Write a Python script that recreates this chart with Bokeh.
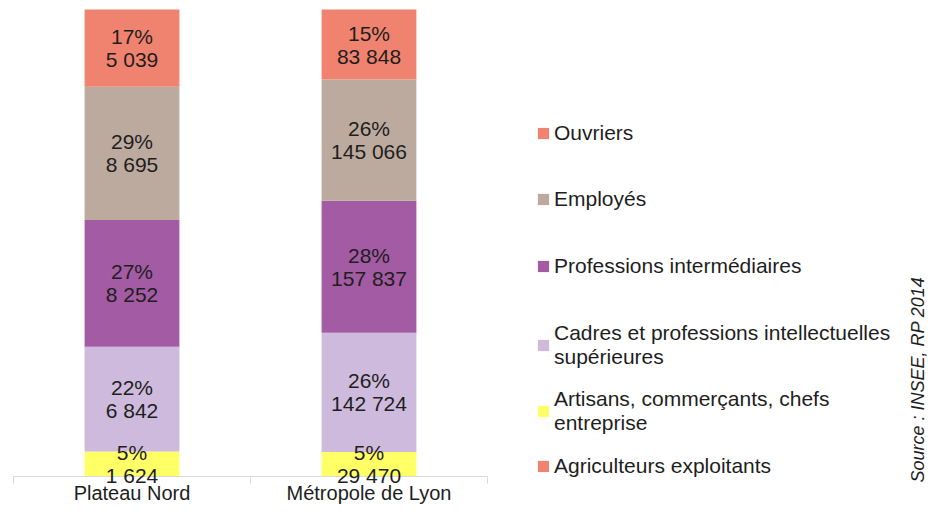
from bokeh.plotting import figure
from bokeh.models import (ColumnDataSource, LabelSet, Label, Legend, LegendItem,
                          Range1d)
from bokeh.core.properties import value
from bokeh.embed import file_html
from bokeh.resources import INLINE

# ---------------- data ----------------
categories = ["Plateau Nord", "Métropole de Lyon"]
series_names = [
    "Agriculteurs exploitants",
    "Artisans, commerçants, chefs\nentreprise",
    "Cadres et professions intellectuelles\nsupérieures",
    "Professions intermédiaires",
    "Employés",
    "Ouvriers",
]
agriculteurs = [0, 0]
artisans = [1624, 29470]
cadres = [6842, 142724]
prof_inter = [8252, 157837]
employes = [8695, 145066]
ouvriers = [5039, 83848]
series_values = [agriculteurs, artisans, cadres, prof_inter, employes, ouvriers]
colors = ["#F0836F", "#FFFF66", "#CDBADC", "#A35BA3", "#BCAA9F", "#F0836F"]
source_text = "Source : INSEE, RP 2014"

FONT = "Liberation Sans"
TXT = "#1E1E1E"

# ---------------- layout (pixels) ----------------
W, H = 930, 504
PX_X0, PX_CAT = 13, 237          # left of plot area, width of one category
PX_TOP, PX_BOT = 9, 476          # top / baseline of the bars
n = len(categories)
ppy = PX_BOT - PX_TOP            # pixels per unit share

# ---------------- derived ----------------
totals = [sum(v[i] for v in series_values) for i in range(n)]
keys = [f"s{k}" for k in range(len(series_values))]
data = {"x": [i + 0.5 for i in range(n)]}
for k, vals in zip(keys, series_values):
    data[k] = [vals[i] / totals[i] for i in range(n)]
src = ColumnDataSource(data)

lx, ly, lpct, lcnt = [], [], [], []
for i in range(n):
    cum = 0.0
    for vals in series_values:
        share = vals[i] / totals[i]
        if vals[i] > 0:
            lx.append(i + 0.5)
            ly.append(cum + share / 2)
            lpct.append(f"{round(share * 100)}%")
            lcnt.append(f"{vals[i]:,}".replace(",", " "))
        cum += share
lab_src = ColumnDataSource(dict(x=lx, y=ly, pct=lpct, cnt=lcnt))

# ---------------- figure ----------------
x_range = Range1d(-PX_X0 / PX_CAT, (W - PX_X0) / PX_CAT)
y_range = Range1d((PX_BOT - H) / ppy, PX_BOT / ppy)
p = figure(width=W, height=H, output_backend="svg", toolbar_location=None,
           x_range=x_range, y_range=y_range,
           x_axis_location=None, y_axis_location=None,
           min_border=0)
p.outline_line_color = None
p.xgrid.visible = False
p.ygrid.visible = False
p.background_fill_color = "white"
p.border_fill_color = "white"

renderers = p.vbar_stack(keys, x="x", width=0.4, source=src,
                         fill_color=colors, line_color=None)

# category axis: baseline + boundary ticks
bounds = list(range(n + 1))
p.segment(x0=[bounds[0]], y0=[0], x1=[bounds[-1]], y1=[0],
          line_color="#D9D9D9", line_width=1)
p.segment(x0=bounds, y0=[0] * len(bounds), x1=bounds,
          y1=[-7 / ppy] * len(bounds), line_color="#D9D9D9", line_width=1)

# segment labels
common = dict(source=lab_src, x="x", y="y", text_align="center",
              text_baseline="middle", text_font=value(FONT),
              text_font_size=value("21px"), text_color=TXT)
p.add_layout(LabelSet(text="pct", y_offset=11.5, **common))
p.add_layout(LabelSet(text="cnt", y_offset=-11.5, **common))

# category labels
cat_src = ColumnDataSource(dict(x=data["x"], y=[0] * n, t=categories))
p.add_layout(LabelSet(source=cat_src, x="x", y="y", text="t", y_offset=-23,
                      text_align="center", text_baseline="alphabetic",
                      text_font=value(FONT), text_font_size=value("20px"),
                      text_color=TXT))

# legend: one block per entry, top entry = last series
legend_pos = {5: 359, 4: 293, 3: 226, 2: 135, 1: 69, 0: 26}
for idx, r in enumerate(renderers):
    lg = Legend(items=[LegendItem(label=series_names[idx], renderers=[r])],
                location=(536, legend_pos[idx]), padding=0, margin=0, spacing=0,
                border_line_color=None, background_fill_alpha=0,
                glyph_width=14, glyph_height=14, label_standoff=4,
                label_height=24, label_text_font=FONT,
                label_text_font_size="21px", label_text_color=TXT)
    p.add_layout(lg)

p.add_layout(Label(x=917, y=125, x_units="screen", y_units="screen",
                   text=source_text, angle=90, angle_units="deg",
                   text_align="center", text_baseline="middle",
                   text_font=FONT, text_font_size="18px",
                   text_font_style="italic", text_color=TXT))

open("out.html", "w").write(file_html(p, INLINE))
